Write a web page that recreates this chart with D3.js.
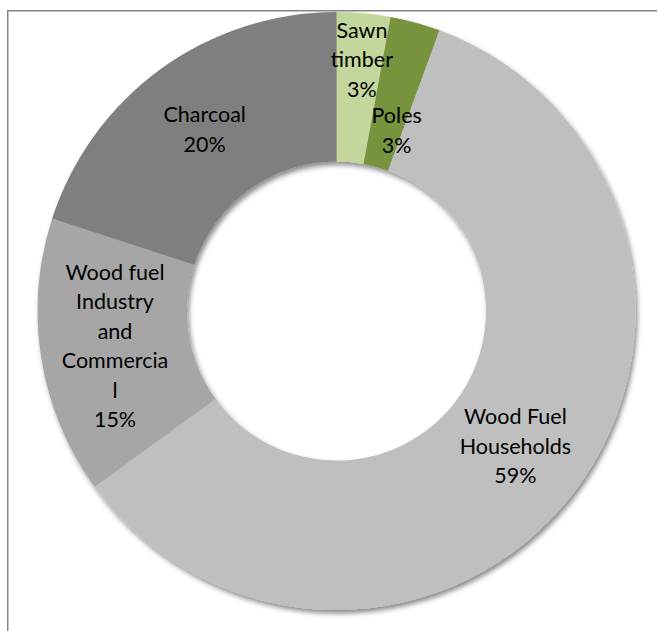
<!DOCTYPE html>
<html>
<head>
<meta charset="utf-8">
<script src="https://cdn.jsdelivr.net/npm/d3@7"></script>
<style>
  html, body { margin: 0; padding: 0; background: #fff; }
  svg { display: block; }
</style>
</head>
<body>
<svg id="chart" width="657" height="631"></svg>
<script>
// Share of wood use by product
const categories = ["Sawn timber", "Poles", "Wood Fuel Households", "Wood fuel Industry and Commercial", "Charcoal"];
const values = [2.9, 2.7, 59.4, 15.0, 20.0];
const colors = ["#c3d69b", "#77933c", "#bfbfbf", "#a6a6a6", "#7f7f7f"];
// Wrapped label text (the category name is broken to fit the label box)
const labelBreaks = [
  ["Sawn", "timber"],
  ["Poles"],
  ["Wood Fuel", "Households"],
  ["Wood fuel", "Industry", "and", "Commercia", "l"],
  ["Charcoal"]
];

const W = 657, H = 631;
const cx = 336.5, cy = 311, outerR = 299, innerR = 149.5;
const lineH = 29.5;

const svg = d3.select("#chart");

// Chart frame (cut off at the right and bottom edges)
svg.append("rect")
  .attr("x", 7.75).attr("y", 10.75)
  .attr("width", W + 20).attr("height", H + 20)
  .attr("fill", "none")
  .attr("stroke", "#868686")
  .attr("stroke-width", 1.5);

const defs = svg.append("defs");
const shadow = defs.append("filter")
  .attr("id", "ringShadow")
  .attr("x", "-10%").attr("y", "-10%")
  .attr("width", "120%").attr("height", "120%");
shadow.append("feDropShadow")
  .attr("dx", 2).attr("dy", 3.5)
  .attr("stdDeviation", 2.6)
  .attr("flood-color", "#000")
  .attr("flood-opacity", 0.45);

const data = categories.map((c, i) => ({ name: c, value: values[i], color: colors[i], lines: labelBreaks[i] }));

const pie = d3.pie().sort(null).value(d => d.value);
const arcs = pie(data);
const arc = d3.arc().innerRadius(innerR).outerRadius(outerR);
const labelArc = d3.arc().innerRadius((innerR + outerR) / 2).outerRadius((innerR + outerR) / 2);

const g = svg.append("g").attr("transform", `translate(${cx},${cy})`);

g.append("g")
  .attr("filter", "url(#ringShadow)")
  .selectAll("path")
  .data(arcs)
  .join("path")
  .attr("d", arc)
  .attr("fill", d => d.data.color);

// The two thin slices have their labels nudged apart so they do not collide
const labelNudge = [[5, -28], [1, 36], [0, 0], [0, 0], [0, 0]];

const fmt = d3.format(".0f");
const labels = g.append("g")
  .attr("font-family", "Lato, 'Open Sans', sans-serif")
  .attr("font-size", 21.5)
  .attr("fill", "#000")
  .attr("text-anchor", "middle");

arcs.forEach((a, i) => {
  const [lx, ly] = labelArc.centroid(a);
  const lines = a.data.lines.concat([fmt(a.data.value) + "%"]);
  const x = lx + labelNudge[i][0];
  const y0 = ly + labelNudge[i][1] - (lines.length - 1) * lineH / 2;
  const t = labels.append("text")
    .attr("x", x)
    .attr("y", y0)
    .attr("dy", "0.35em");
  lines.forEach((ln, k) => {
    t.append("tspan")
      .attr("x", x)
      .attr("y", y0 + k * lineH)
      .attr("dy", "0.35em")
      .text(ln);
  });
});
</script>
</body>
</html>
